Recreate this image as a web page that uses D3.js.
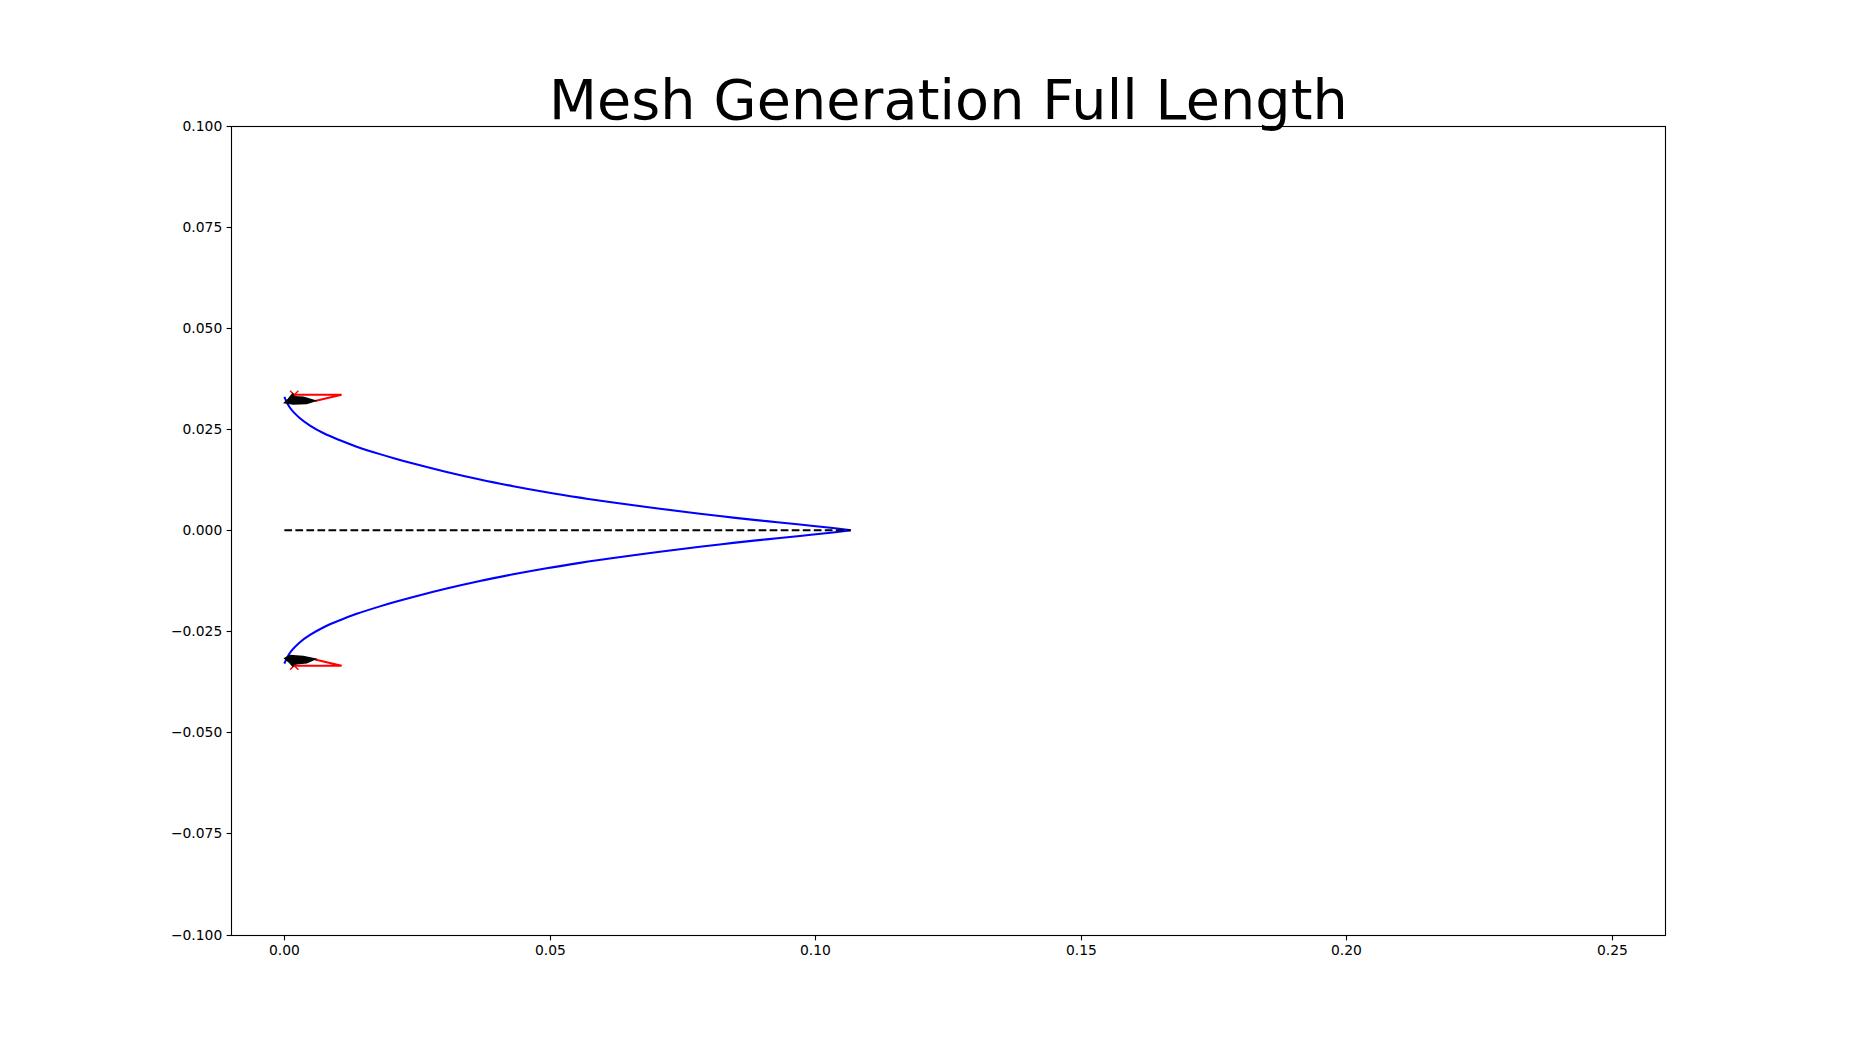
<!DOCTYPE html>
<html>
<head>
<meta charset="utf-8">
<title>Mesh Generation Full Length</title>
<script src="https://cdn.jsdelivr.net/npm/d3@7"></script>
<style>
  html, body { margin: 0; padding: 0; background: #fff; }
  svg { display: block; }
  text { font-family: "DejaVu Sans", sans-serif; fill: #000; }
</style>
</head>
<body>
<div id="chart"></div>
<script>
// values
const titleText = "Mesh Generation Full Length";
const xTicks = [0, 0.05, 0.1, 0.15, 0.2, 0.25];
const yTicks = [-0.1, -0.075, -0.05, -0.025, 0, 0.025, 0.05, 0.075, 0.1];

// blue profile, upper and lower half
const curveX = [0, 0.00106, 0.00294, 0.00483, 0.00733, 0.01048, 0.01362, 0.018, 0.02077, 0.02427, 0.03056, 0.03683, 0.0431, 0.04939, 0.05566, 0.06194, 0.06822, 0.07449, 0.07826, 0.08452, 0.0908, 0.09708, 0.1033, 0.1067];
const upperY = [0.033, 0.0303, 0.0277, 0.0259, 0.02405, 0.02225, 0.02068, 0.01883, 0.01776, 0.0165, 0.01442, 0.01255, 0.0109, 0.0094, 0.00807, 0.00685, 0.00575, 0.00472, 0.0041, 0.00312, 0.00225, 0.00142, 0.00055, 0];
const lowerY = [-0.033, -0.0303, -0.0277, -0.0259, -0.02405, -0.02225, -0.02068, -0.01883, -0.01776, -0.0165, -0.01442, -0.01255, -0.0109, -0.0094, -0.00807, -0.00685, -0.00575, -0.00472, -0.0041, -0.00312, -0.00225, -0.00142, -0.00055, 0];

// dashed centre line
const centreX = [0, 0.1065];
const centreY = [0, 0];

// red triangles at the ends
const redUpperX = [0.00156, 0.01078, 0.00576];
const redUpperY = [0.0335, 0.0335, 0.03197];
const redLowerX = [0.00156, 0.01078, 0.00576];
const redLowerY = [-0.0335, -0.0335, -0.03197];

// red x markers
const markerX = [0.00186, 0.00186];
const markerY = [0.0335, -0.0335];

// black mesh blobs
const blobUpperX = [0.0001, 0.00074, 0.00156, 0.00181, 0.00356, 0.00576, 0.00419, 0.00168, 0.00105];
const blobUpperY = [0.03156, 0.03238, 0.0337, 0.03304, 0.03288, 0.03205, 0.03139, 0.03122, 0.03139];
const blobLowerX = [0.0001, 0.00105, 0.00356, 0.00576, 0.00419, 0.00181, 0.00156, 0.00105];
const blobLowerY = [-0.0317, -0.03102, -0.03127, -0.03185, -0.03275, -0.03308, -0.03358, -0.03275];

const width = 1850;
const height = 1050;
const margin = { top: 126, right: 185, bottom: 115.5, left: 231.25 };

const x = d3.scaleLinear().domain([-0.01, 0.26]).range([margin.left, width - margin.right]);
const y = d3.scaleLinear().domain([-0.1, 0.1]).range([height - margin.bottom, margin.top]);

// matplotlib snaps axis lines to pixel centres
const snap = v => Math.round(v) + 0.5;

const svg = d3.select("#chart")
  .append("svg")
  .attr("width", width)
  .attr("height", height);

const line = d3.line().x(d => x(d[0])).y(d => y(d[1]));
const zip = (xs, ys) => xs.map((v, i) => [v, ys[i]]);

// blue curves
const smooth = d3.line().x(d => x(d[0])).y(d => y(d[1])).curve(d3.curveCatmullRom.alpha(0.5));
[upperY, lowerY].forEach(ys => {
  svg.append("path")
    .attr("d", smooth(zip(curveX, ys)))
    .attr("fill", "none")
    .attr("stroke", "#0000ff")
    .attr("stroke-width", 2.08);
});

// centre line
svg.append("path")
  .attr("d", line(zip(centreX, centreY)))
  .attr("fill", "none")
  .attr("stroke", "#000")
  .attr("stroke-width", 2.08)
  .attr("stroke-dasharray", "7.7 3.33");

// red triangles
[[redUpperX, redUpperY], [redLowerX, redLowerY]].forEach(([xs, ys]) => {
  svg.append("path")
    .attr("d", line(zip(xs, ys)))
    .attr("fill", "none")
    .attr("stroke", "#ff0000")
    .attr("stroke-width", 2.08);
});

// red x markers
const cross = 4.17;
svg.selectAll(".marker")
  .data(zip(markerX, markerY))
  .enter()
  .append("path")
  .attr("class", "marker")
  .attr("transform", d => `translate(${x(d[0])},${y(d[1])})`)
  .attr("d", `M${-cross},${-cross}L${cross},${cross}M${-cross},${cross}L${cross},${-cross}`)
  .attr("fill", "none")
  .attr("stroke", "#ff0000")
  .attr("stroke-width", 1.39);

// black blobs
[[blobUpperX, blobUpperY], [blobLowerX, blobLowerY]].forEach(([xs, ys]) => {
  svg.append("path")
    .attr("d", line(zip(xs, ys)) + "Z")
    .attr("fill", "#000")
    .attr("stroke", "#000")
    .attr("stroke-width", 1.6);
});

// axes
const xAxis = d3.axisBottom(x)
  .tickValues(xTicks)
  .tickFormat(d3.format(".2f"))
  .tickSizeInner(4.86)
  .tickSizeOuter(0)
  .tickPadding(4.86)
  .offset(0);
const yAxis = d3.axisLeft(y)
  .tickValues(yTicks)
  .tickFormat(d3.format(".3f"))
  .tickSizeInner(4.86)
  .tickSizeOuter(0)
  .tickPadding(4.4)
  .offset(0);

const gx = svg.append("g")
  .attr("transform", `translate(0,${snap(y.range()[0])})`)
  .call(xAxis);
const gy = svg.append("g")
  .attr("transform", `translate(${snap(x.range()[0])},0)`)
  .call(yAxis);

gx.selectAll(".tick").attr("transform", d => `translate(${snap(x(d))},0)`);
gy.selectAll(".tick").attr("transform", d => `translate(0,${snap(y(d))})`);

[gx, gy].forEach(g => {
  g.attr("font-family", null).attr("font-size", null);
  g.selectAll("text").style("font-size", "13.89px");
  g.selectAll("line").attr("stroke-width", 1.11);
  g.select(".domain").attr("stroke", "none");
});

// spines
svg.append("rect")
  .attr("x", snap(x.range()[0]))
  .attr("y", snap(y.range()[1]))
  .attr("width", snap(x.range()[1]) - snap(x.range()[0]))
  .attr("height", snap(y.range()[0]) - snap(y.range()[1]))
  .attr("fill", "none")
  .attr("stroke", "#000")
  .attr("stroke-width", 1.11);

// title
svg.append("text")
  .attr("x", (x.range()[0] + x.range()[1]) / 2 + 0.3)
  .attr("y", 118.5)
  .attr("text-anchor", "middle")
  .style("font-size", "55.56px")
  .style("letter-spacing", "0.12px")
  .text(titleText);
</script>
</body>
</html>
